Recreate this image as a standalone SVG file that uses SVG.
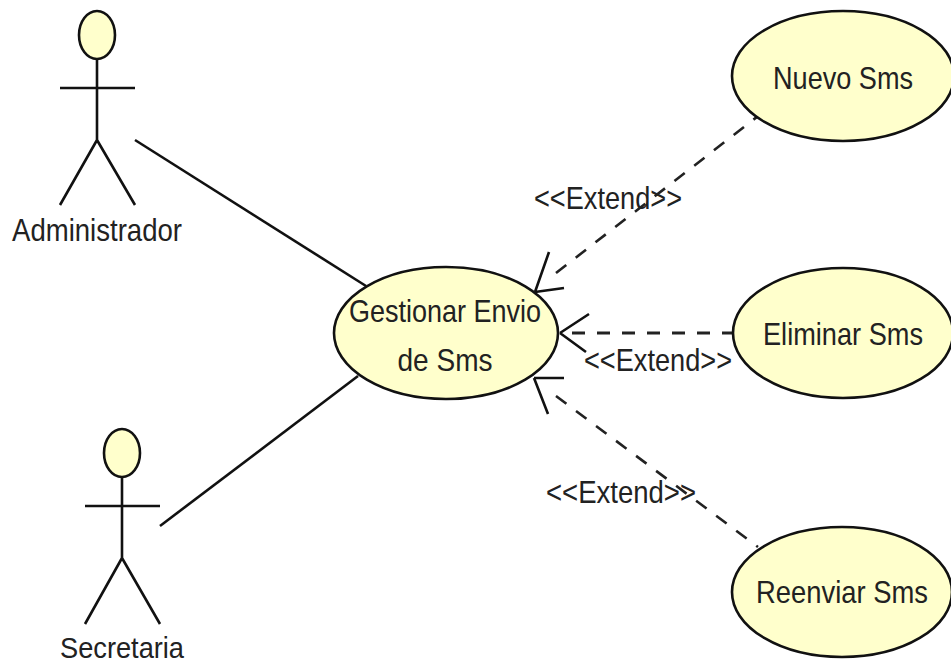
<svg xmlns="http://www.w3.org/2000/svg" width="951" height="664" viewBox="0 0 951 664">
<style>
.s{fill:#ffffcc;stroke:#111;stroke-width:2.6}
.l{fill:none;stroke:#111;stroke-width:2.6}
.d{fill:none;stroke:#222;stroke-width:2.6;stroke-dasharray:13 12}
text{font-family:"Liberation Sans",Arial,sans-serif;font-size:32px;fill:#222;text-anchor:middle}
</style>
<rect width="951" height="664" fill="#fff"/>
<g id="connectors">
<path class="l" d="M135 140L366 286"/>
<path class="l" d="M160 526L358 376"/>
<path class="d" d="M556 273L762 113"/>
<path class="l" d="M535 292L549 252M535 292L564 288"/>
<path class="d" d="M572 333L733 333" style="stroke-width:3"/>
<path class="l" d="M560 333L589 314M560 333L586 352"/>
<path class="d" d="M556 396L758 547"/>
<path class="l" d="M534 378L564 378M534 378L548 414"/>
</g>
<g id="admin">
<ellipse class="s" cx="97" cy="35" rx="18" ry="24"/>
<path class="l" d="M97 59V140M60 88H135M97 140L60 205M97 140L135 205"/>
<text x="97" y="241" textLength="170" lengthAdjust="spacingAndGlyphs">Administrador</text>
</g>
<g id="secretaria">
<ellipse class="s" cx="122" cy="453" rx="18" ry="24"/>
<path class="l" d="M122 477V558M85 506H160M122 558L85 624M122 558L160 624"/>
<text x="122" y="658" textLength="124" lengthAdjust="spacingAndGlyphs" style="font-size:29px">Secretaria</text>
</g>
<g id="gestionar">
<ellipse class="s" cx="446" cy="333" rx="112" ry="66"/>
<text x="445" y="322" textLength="192" lengthAdjust="spacingAndGlyphs">Gestionar Envio</text>
<text x="445" y="371" textLength="95" lengthAdjust="spacingAndGlyphs">de Sms</text>
</g>
<g id="nuevo">
<ellipse class="s" cx="843" cy="76" rx="111" ry="65"/>
<text x="843" y="89" textLength="140" lengthAdjust="spacingAndGlyphs">Nuevo Sms</text>
</g>
<g id="eliminar">
<ellipse class="s" cx="843" cy="333" rx="110" ry="65"/>
<text x="843" y="345" textLength="160" lengthAdjust="spacingAndGlyphs">Eliminar Sms</text>
</g>
<g id="reenviar">
<ellipse class="s" cx="842" cy="592" rx="110" ry="65"/>
<text x="842" y="603" textLength="172" lengthAdjust="spacingAndGlyphs">Reenviar Sms</text>
</g>
<g id="labels">
<text x="608" y="209" textLength="148" lengthAdjust="spacingAndGlyphs">&lt;&lt;Extend&gt;&gt;</text>
<text x="658" y="371" textLength="148" lengthAdjust="spacingAndGlyphs">&lt;&lt;Extend&gt;&gt;</text>
<text x="621" y="503" textLength="150" lengthAdjust="spacingAndGlyphs">&lt;&lt;Extend&gt;&gt;</text>
</g>
</svg>
